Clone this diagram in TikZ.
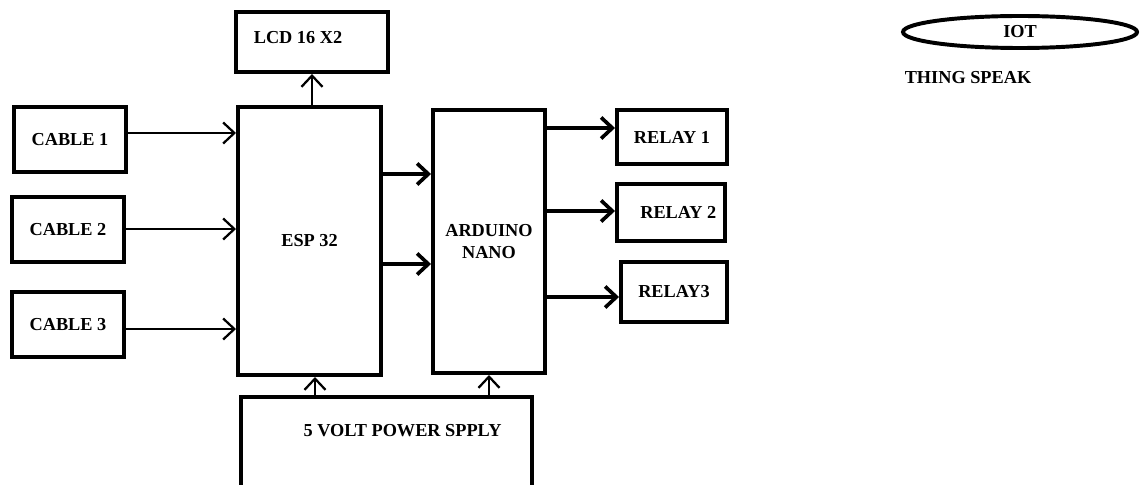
\documentclass[tikz,border=0pt]{standalone}
\usepackage{fontspec}
\setmainfont{Liberation Serif}
\usetikzlibrary{arrows.meta,shapes.geometric}
\tikzset{
    block/.style={rectangle, draw, line width=2.8pt, inner sep=0pt, font=\fontsize{13}{15}\selectfont\bfseries},
    cloud/.style={ellipse, draw, line width=2.8pt, inner sep=0pt, font=\fontsize{13}{15}\selectfont\bfseries},
    txt/.style={font=\fontsize{13}{15}\selectfont\bfseries},
    edge/.style={draw, line width=1.6pt, -{Straight Barb[length=8pt,width=15pt]}},
    thickedge/.style={edge, line width=2.6pt}
}
\begin{document}
\begin{tikzpicture}[x=0.025cm, y=-0.025cm]
    \useasboundingbox (0,0) rectangle (1142,485);
    % Nodes
    \node[block, minimum width=2.8cm, minimum height=1.625cm] (cable1) at (70,139.5) {CABLE 1};
    \node[block, minimum width=2.8cm, minimum height=1.625cm] (cable2) at (68,229.5) {CABLE 2};
    \node[block, minimum width=2.8cm, minimum height=1.625cm] (cable3) at (68,324.5) {CABLE 3};
    \node[block, minimum width=3.8cm, minimum height=1.5cm,
          label={[txt, xshift=-0.35cm, yshift=0.12cm]center:LCD 16 X2}] (lcd) at (312,42) {};
    \node[block, minimum width=3.575cm, minimum height=6.7cm] (esp) at (309.5,241) {ESP 32};
    \node[block, minimum width=2.8cm, minimum height=6.575cm, align=center] (nano) at (489,241.5) {ARDUINO\\NANO};
    \node[block, minimum width=2.75cm, minimum height=1.35cm] (relay1) at (672,137) {RELAY 1};
    \node[block, minimum width=2.7cm, minimum height=1.425cm] (relay2) at (671,212.5) {\hspace{0.8em}RELAY 2};
    \node[block, minimum width=2.65cm, minimum height=1.5cm] (relay3) at (674,292) {RELAY3};
    \node[block, minimum width=7.275cm, minimum height=2.375cm,
          label={[txt, xshift=0.4cm, yshift=0.35cm]center:5 VOLT POWER SPPLY}] (power) at (386.5,444.5) {};
    \node[cloud, minimum width=5.85cm, minimum height=0.8cm] (iot) at (1020,32) {IOT};
    \node[txt] (thing) at (968,78) {THING SPEAK};

    % edges
    \draw[edge] (cable1.east |- 0,133) -- (esp.west |- 0,133);
    \draw[edge] (cable2.east |- 0,229) -- (esp.west |- 0,229);
    \draw[edge] (cable3.east |- 0,329) -- (esp.west |- 0,329);
    \draw[edge] (esp.north -| lcd.south) -- (lcd.south);
    \draw[thickedge] (esp.east |- 0,174) -- (nano.west |- 0,174);
    \draw[thickedge] (esp.east |- 0,264) -- (nano.west |- 0,264);
    \draw[thickedge] (nano.east |- 0,128) -- (relay1.west |- 0,128);
    \draw[thickedge] (nano.east |- 0,211) -- (relay2.west |- 0,211);
    \draw[thickedge] (nano.east |- 0,297) -- (relay3.west |- 0,297);
    \draw[edge] (power.north -| 315,0) -- (esp.south -| 315,0);
    \draw[edge] (power.north -| nano.south) -- (nano.south);
\end{tikzpicture}
\end{document}
